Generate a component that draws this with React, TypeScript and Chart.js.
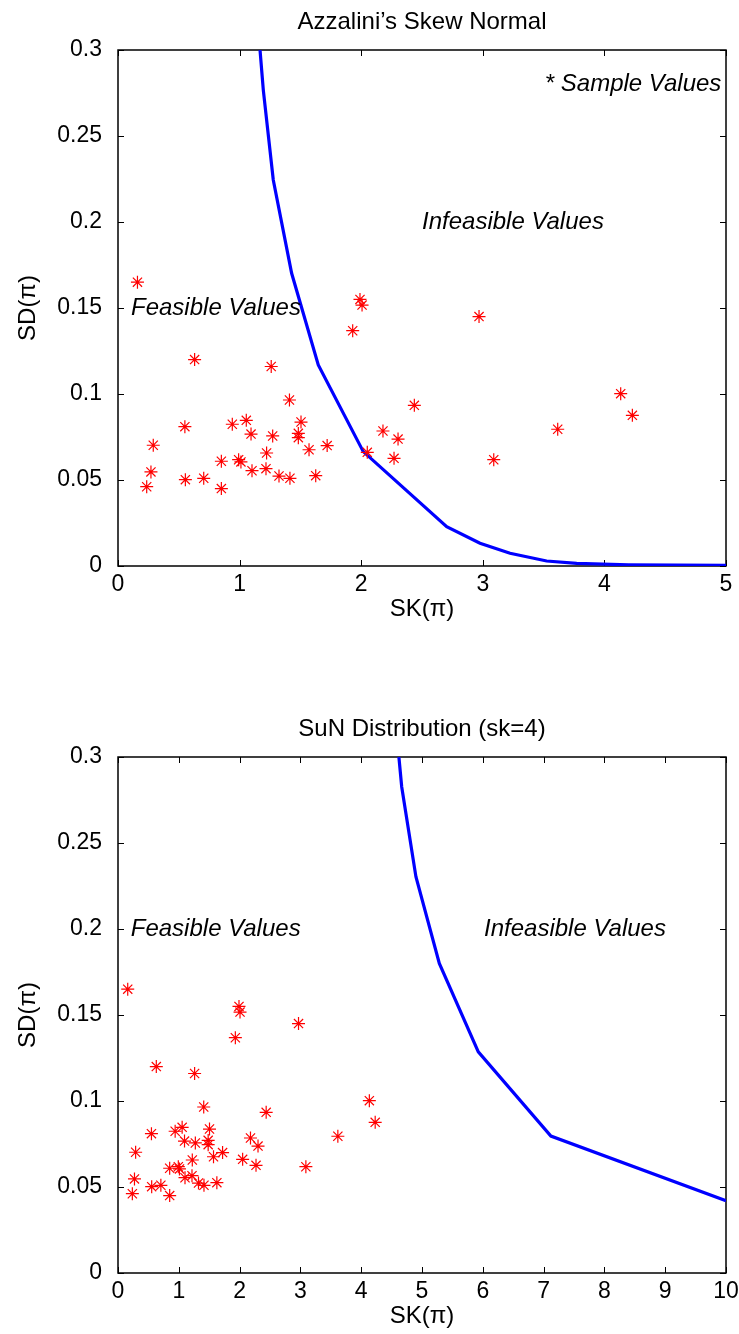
import React, { useEffect, useRef } from 'react';
import { Chart, registerables } from 'chart.js';

Chart.register(...registerables);

// Sample values (SK, SD)
const sampleSK = [
  0.16, 0.63, 1.26, 1.41, 0.55, 0.94, 1.055, 1.094, 1.272, 1.505, 1.483, 1.483, 0.29, 1.72,
  1.571, 1.222, 0.85, 0.992, 1.011, 1.102, 1.217, 0.271, 0.554, 0.705, 1.324, 1.414, 1.626,
  0.236, 0.85, 1.99, 2.007, 1.93, 2.969, 4.134, 4.23, 3.616, 2.437, 2.179, 2.303, 2.27, 2.05, 3.09,
];
const sampleSD = [
  0.165, 0.12, 0.116, 0.0965, 0.081, 0.0824, 0.0847, 0.0767, 0.0756, 0.0837, 0.0771, 0.0746,
  0.0702, 0.07, 0.0676, 0.0657, 0.0609, 0.0618, 0.0605, 0.0554, 0.0566, 0.0547, 0.0502, 0.051,
  0.0523, 0.051, 0.0525, 0.0461, 0.045, 0.155, 0.1517, 0.1368, 0.145, 0.1002, 0.0876, 0.0795,
  0.0934, 0.0785, 0.0738, 0.0626, 0.0661, 0.0618,
];

// Boundary of Azzalini's skew normal
const azzaliniSK = [1.168, 1.195, 1.277, 1.428, 1.647, 2.017, 2.703, 2.977, 3.224, 3.525, 3.772, 4.2, 5];
const azzaliniSD = [0.3, 0.2767, 0.2244, 0.1702, 0.1169, 0.0665, 0.0229, 0.0132, 0.0074, 0.0029, 0.0015, 0.0007, 0.0004];

// Boundary of SuN distribution (sk=4)
const sunSK = [4.62, 4.666, 4.9, 5.285, 5.926, 7.12, 10];
const sunSD = [0.3, 0.2827, 0.2304, 0.18, 0.1286, 0.0796, 0.042];

// Ticks
const yTickValues = [0, 0.05, 0.1, 0.15, 0.2, 0.25, 0.3];
const yTickLabels = ['0', '0.05', '0.1', '0.15', '0.2', '0.25', '0.3'];
const xTickValuesTop = [0, 1, 2, 3, 4, 5];
const xTickLabelsTop = ['0', '1', '2', '3', '4', '5'];
const xTickValuesBottom = [0, 1, 2, 3, 4, 5, 6, 7, 8, 9, 10];
const xTickLabelsBottom = ['0', '1', '2', '3', '4', '5', '6', '7', '8', '9', '10'];

const titleTop = 'Azzalini\u2019s Skew Normal';
const titleBottom = 'SuN Distribution (sk=4)';
const xAxisTitle = 'SK(\u03c0)';
const yAxisTitle = 'SD(\u03c0)';

type Note = { text: string; x: number; y: number };
const notesTop: Note[] = [
  { text: 'Feasible Values', x: 0.107, y: 0.15 },
  { text: 'Infeasible Values', x: 2.5, y: 0.2 },
  { text: '* Sample Values', x: 3.51, y: 0.28 },
];
const notesBottom: Note[] = [
  { text: 'Feasible Values', x: 0.21, y: 0.2 },
  { text: 'Infeasible Values', x: 6.02, y: 0.2 },
];

const FONT = '"Liberation Sans", Arial, Helvetica, sans-serif';

function makeFramePlugin(title: string, notes: Note[]) {
  return {
    id: 'frame',
    beforeDatasetsDraw(chart: any) {
      const { ctx, chartArea } = chart;
      const { left, right, top, bottom } = chartArea;
      const xs = chart.scales.x;
      const ys = chart.scales.y;
      const tl = 6;
      ctx.save();
      ctx.strokeStyle = '#000';
      ctx.lineWidth = 1.5;
      ctx.strokeRect(left, top, right - left, bottom - top);
      ctx.lineWidth = 1;
      ctx.beginPath();
      xs.ticks.forEach((t: any) => {
        const px = Math.round(xs.getPixelForValue(t.value)) + 0.5;
        ctx.moveTo(px, bottom);
        ctx.lineTo(px, bottom - tl);
        ctx.moveTo(px, top);
        ctx.lineTo(px, top + tl);
      });
      ys.ticks.forEach((t: any) => {
        const py = Math.round(ys.getPixelForValue(t.value)) + 0.5;
        ctx.moveTo(left, py);
        ctx.lineTo(left + tl, py);
        ctx.moveTo(right, py);
        ctx.lineTo(right - tl, py);
      });
      ctx.stroke();
      ctx.restore();
    },
    afterDraw(chart: any) {
      const { ctx, chartArea } = chart;
      const xs = chart.scales.x;
      const ys = chart.scales.y;
      ctx.save();
      ctx.fillStyle = '#000';
      ctx.font = `24px ${FONT}`;
      ctx.textAlign = 'center';
      ctx.textBaseline = 'middle';
      ctx.fillText(title, (chartArea.left + chartArea.right) / 2, chartArea.top - 28);
      ctx.font = `italic 24px ${FONT}`;
      ctx.textAlign = 'left';
      notes.forEach((n) => {
        ctx.fillText(n.text, xs.getPixelForValue(n.x), ys.getPixelForValue(n.y));
      });
      ctx.restore();
    },
  };
}

function ScatterPanel(props: {
  title: string;
  notes: Note[];
  curveX: number[];
  curveY: number[];
  xMax: number;
  xTicks: number[];
  xLabels: string[];
  topPad: number;
  bottomPad: number;
  style: React.CSSProperties;
}) {
  const ref = useRef<HTMLCanvasElement>(null);
  useEffect(() => {
    if (!ref.current) return;
    const chart = new Chart(ref.current, {
      type: 'scatter',
      data: {
        datasets: [
          {
            label: 'Sample Values',
            data: sampleSK.map((x, i) => ({ x, y: sampleSD[i] })),
            pointStyle: 'star',
            pointRadius: 6.5,
            pointHoverRadius: 6.5,
            borderColor: '#ff0000',
            backgroundColor: '#ff0000',
            pointBorderWidth: 1.2,
            showLine: false,
          },
          {
            label: 'Boundary',
            data: props.curveX.map((x, i) => ({ x, y: props.curveY[i] })),
            showLine: true,
            borderColor: '#0000ff',
            borderWidth: 3.2,
            pointRadius: 0,
            pointHoverRadius: 0,
            tension: 0,
            fill: false,
          },
        ],
      },
      options: {
        animation: false,
        responsive: false,
        events: [],
        layout: { padding: { top: props.topPad, right: 13, bottom: props.bottomPad, left: 0 } },
        plugins: {
          legend: { display: false },
          title: { display: false },
          tooltip: { enabled: false },
        },
        scales: {
          x: {
            type: 'linear',
            min: 0,
            max: props.xMax,
            grid: { display: false, drawTicks: false },
            border: { display: false },
            afterBuildTicks: (scale: any) => {
              scale.ticks = props.xTicks.map((v) => ({ value: v }));
            },
            afterFit: (scale: any) => {
              scale.height = 58;
              scale.paddingLeft = 0;
              scale.paddingRight = 0;
            },
            ticks: {
              autoSkip: false,
              maxRotation: 0,
              padding: 5,
              color: '#000',
              font: { family: FONT, size: 23 },
              callback: (_v: any, i: number) => props.xLabels[i],
            },
            title: {
              display: true,
              text: xAxisTitle,
              color: '#000',
              font: { family: FONT, size: 24 },
              padding: { top: 0, bottom: 0 },
            },
          },
          y: {
            type: 'linear',
            min: 0,
            max: 0.3,
            grid: { display: false, drawTicks: false },
            border: { display: false },
            afterBuildTicks: (scale: any) => {
              scale.ticks = yTickValues.map((v) => ({ value: v }));
            },
            afterFit: (scale: any) => {
              scale.width = 118;
              scale.paddingTop = 0;
              scale.paddingBottom = 0;
            },
            ticks: {
              autoSkip: false,
              padding: 16,
              color: '#000',
              font: { family: FONT, size: 23 },
              callback: (_v: any, i: number) => yTickLabels[i],
            },
            title: {
              display: true,
              text: yAxisTitle,
              color: '#000',
              font: { family: FONT, size: 24 },
              padding: { top: 14, bottom: 0 },
            },
          },
        },
      },
      plugins: [makeFramePlugin(props.title, props.notes)],
    } as any);
    return () => chart.destroy();
  }, []);
  return <canvas ref={ref} width={739} height={667} style={{ position: 'absolute', left: 0, width: 739, height: 667, ...props.style }} />;
}

export default function App() {
  return (
    <div style={{ position: 'absolute', left: 0, top: 0, width: 739, height: 1334, background: '#fff', overflow: 'hidden' }}>
      <ScatterPanel
        title={titleTop}
        notes={notesTop}
        curveX={azzaliniSK}
        curveY={azzaliniSD}
        xMax={5}
        xTicks={xTickValuesTop}
        xLabels={xTickLabelsTop}
        topPad={50}
        bottomPad={43}
        style={{ top: 0 }}
      />
      <ScatterPanel
        title={titleBottom}
        notes={notesBottom}
        curveX={sunSK}
        curveY={sunSD}
        xMax={10}
        xTicks={xTickValuesBottom}
        xLabels={xTickLabelsBottom}
        topPad={90}
        bottomPad={3}
        style={{ top: 667 }}
      />
    </div>
  );
}
